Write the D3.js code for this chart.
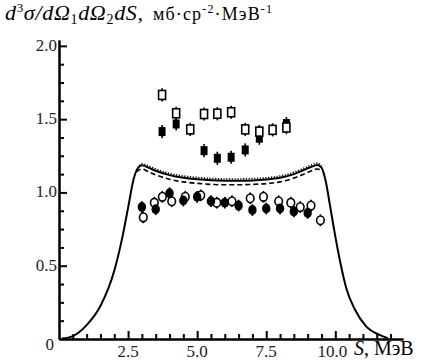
<!DOCTYPE html>
<html><head><meta charset="utf-8">
<script src="https://cdn.jsdelivr.net/npm/d3@7"></script>
<style>body{margin:0;background:#fff}svg{display:block}svg text{font-family:'Liberation Serif',serif}</style>
</head><body>
<svg id="c" width="422" height="364"></svg>
<script>
// ---- data ----
const curveS      = [0.1,0.5,1.0,1.5,2.0,2.3,2.5,2.7,2.85,3.0,3.25,3.5,4.0,4.5,5.0,5.5,6.0,6.5,7.0,7.5,8.0,8.5,8.8,9.1,9.35,9.5,9.65,9.8,10.0,10.2,10.4,10.7,11.1,11.6,11.9];
const solidVals   = [0.003,0.02,0.095,0.225,0.465,0.70,0.895,1.09,1.165,1.185,1.168,1.148,1.118,1.10,1.09,1.083,1.08,1.08,1.082,1.088,1.10,1.125,1.148,1.172,1.188,1.17,1.08,0.92,0.70,0.505,0.345,0.205,0.09,0.028,0.005];
const plateauS    = [2.8,3.0,3.25,3.5,4.0,4.5,5.0,5.5,6.0,6.5,7.0,7.5,8.0,8.5,8.8,9.1,9.35,9.5];
const dottedVals  = [1.15,1.195,1.18,1.16,1.13,1.112,1.102,1.095,1.092,1.092,1.094,1.1,1.112,1.137,1.16,1.184,1.2,1.18];
const dashedVals  = [1.14,1.16,1.14,1.12,1.09,1.072,1.062,1.055,1.052,1.052,1.055,1.06,1.072,1.098,1.12,1.145,1.16,1.15];

const openCircS   = [3.05,3.45,3.74,4.08,4.57,5.13,5.71,6.26,6.92,7.40,7.95,8.39,8.73,9.12,9.46];
const openCircV   = [0.83,0.93,0.97,0.94,0.97,0.98,0.93,0.94,0.96,0.97,0.94,0.93,0.90,0.91,0.81];
const fillCircS   = [3.0,3.5,4.0,4.5,5.0,5.5,6.0,6.5,7.0,7.5,8.0,8.5,9.0];
const fillCircV   = [0.90,0.885,0.995,0.945,0.97,0.94,0.93,0.91,0.88,0.89,0.89,0.87,0.86];

const openSqS     = [3.73,4.24,4.75,5.25,5.73,6.23,6.74,7.25,7.73,8.23];
const openSqV     = [1.665,1.54,1.43,1.535,1.537,1.547,1.43,1.415,1.427,1.443];
const fillSqS     = [3.73,4.24,5.25,5.73,6.23,6.74,7.25,8.23];
const fillSqV     = [1.415,1.467,1.285,1.233,1.24,1.29,1.37,1.47];

const xMajor      = [2.5,5.0,7.5,10.0];
const xMajorLbl   = ["2.5","5.0","7.5","10.0"];
const yMajor      = [0,0.5,1.0,1.5,2.0];
const yMajorLbl   = ["0","0.5","1.0","1.5","2.0"];

// ---- scales ----
const svg = d3.select("#c");
const x = d3.scaleLinear().domain([0,12.45]).range([59,403]);
const y = d3.scaleLinear().domain([0,2.04]).range([339,40]);
const font = "'Liberation Serif', serif";

// axes
const xMinor = d3.range(0.5,12.01,0.5).filter(v=>!xMajor.includes(v));
svg.append("g").attr("transform","translate(0,339)")
  .call(d3.axisTop(x).tickValues(xMinor).tickSize(5).tickFormat("").tickSizeOuter(0))
  .call(g=>g.selectAll("line,path").attr("stroke","#000").attr("stroke-width",2));
svg.append("g").attr("transform","translate(0,339)")
  .call(d3.axisTop(x).tickValues(xMajor).tickSize(8).tickFormat("").tickSizeOuter(0))
  .call(g=>g.selectAll("line,path").attr("stroke","#000").attr("stroke-width",2));
const yMinor = d3.range(0.125,2.01,0.125).filter(v=>!yMajor.includes(v));
svg.append("g").attr("transform","translate(59,0)")
  .call(d3.axisRight(y).tickValues(yMinor).tickSize(5).tickFormat("").tickSizeOuter(0))
  .call(g=>g.selectAll("line,path").attr("stroke","#000").attr("stroke-width",2));
svg.append("g").attr("transform","translate(59,0)")
  .call(d3.axisRight(y).tickValues(yMajor.filter(v=>v>0)).tickSize(8).tickFormat("").tickSizeOuter(0))
  .call(g=>g.selectAll("line,path").attr("stroke","#000").attr("stroke-width",2));

// tick labels
svg.append("g").selectAll("text").data(xMajor).join("text")
  .attr("x",d=>x(d)-(d>=10?3:0)).attr("y",357).attr("text-anchor","middle")
  .style("font-family",font).attr("font-size",17).attr("fill","#222")
  .text((d,i)=>xMajorLbl[i]);
svg.append("g").selectAll("text").data(yMajor).join("text")
  .attr("x",d=>d===0?54:57).attr("y",d=>d===0?350:y(d)+5).attr("text-anchor","end")
  .style("font-family",font).attr("font-size",17).attr("fill","#222")
  .text((d,i)=>yMajorLbl[i]);

// axis titles
const xt = svg.append("text").attr("x",354).attr("y",355).style("font-family",font).attr("font-size",20);
xt.append("tspan").attr("font-style","italic").text("S");
xt.append("tspan").text(", МэВ");

const tt = svg.append("text").attr("x",5).attr("y",20).style("font-family",font).attr("font-size",22)
  .attr("textLength",138).attr("lengthAdjust","spacing");
tt.append("tspan").attr("font-style","italic").text("d");
tt.append("tspan").attr("font-size",13).attr("dy",-8).text("3");
tt.append("tspan").attr("dy",8).attr("font-style","italic").text("σ/dΩ");
tt.append("tspan").attr("font-size",14).attr("dy",4).text("1");
tt.append("tspan").attr("dy",-4).attr("font-style","italic").text("dΩ");
tt.append("tspan").attr("font-size",14).attr("dy",4).text("2");
tt.append("tspan").attr("dy",-4).attr("font-style","italic").text("dS,");
const tu = svg.append("text").attr("x",153).attr("y",20).style("font-family",font).attr("font-size",18)
  .attr("textLength",119).attr("lengthAdjust","spacing");
tu.append("tspan").text("мб·ср");
tu.append("tspan").attr("font-size",12).attr("dy",-7).text("-2");
tu.append("tspan").attr("dy",7).text("·МэВ");
tu.append("tspan").attr("font-size",12).attr("dy",-7).text("-1");

// curves
const line = d3.line().curve(d3.curveMonotoneX);
svg.append("path").attr("d",line(curveS.map((s,i)=>[x(s),y(solidVals[i])])))
  .attr("fill","none").attr("stroke","#000").attr("stroke-width",2);
svg.append("path").attr("d",line(plateauS.map((s,i)=>[x(s),y(dottedVals[i])])))
  .attr("fill","none").attr("stroke","#000").attr("stroke-width",1.6).attr("stroke-dasharray","1.2,1.6");
svg.append("path").attr("d",line(plateauS.map((s,i)=>[x(s),y(dashedVals[i])])))
  .attr("fill","none").attr("stroke","#000").attr("stroke-width",1.6).attr("stroke-dasharray","5,3");

// error bars + markers
function errbars(S,V,e){
  svg.append("g").selectAll("line").data(S).join("line")
    .attr("x1",d=>x(d)).attr("x2",d=>x(d))
    .attr("y1",(d,i)=>y(V[i]-e)).attr("y2",(d,i)=>y(V[i]+e))
    .attr("stroke","#000").attr("stroke-width",1.6);
}
errbars(openSqS,openSqV,0.045);
errbars(fillSqS,fillSqV,0.045);
svg.append("g").selectAll("rect").data(fillSqS).join("rect")
  .attr("x",d=>x(d)-3.5).attr("y",(d,i)=>y(fillSqV[i])-4.5).attr("width",7).attr("height",9)
  .attr("fill","#000");
svg.append("g").selectAll("rect").data(openSqS).join("rect")
  .attr("x",d=>x(d)-3.5).attr("y",(d,i)=>y(openSqV[i])-4.5).attr("width",7).attr("height",9)
  .attr("fill","#fff").attr("stroke","#000").attr("stroke-width",1.6);

errbars(openCircS,openCircV,0.04);
errbars(fillCircS,fillCircV,0.04);
svg.append("g").selectAll("ellipse").data(openCircS).join("ellipse")
  .attr("cx",d=>x(d)).attr("cy",(d,i)=>y(openCircV[i])).attr("rx",3.8).attr("ry",4.3)
  .attr("fill","#fff").attr("stroke","#000").attr("stroke-width",1.6);
svg.append("g").selectAll("ellipse").data(fillCircS).join("ellipse")
  .attr("cx",d=>x(d)).attr("cy",(d,i)=>y(fillCircV[i])).attr("rx",4.2).attr("ry",5)
  .attr("fill","#000");
</script>
</body></html>
